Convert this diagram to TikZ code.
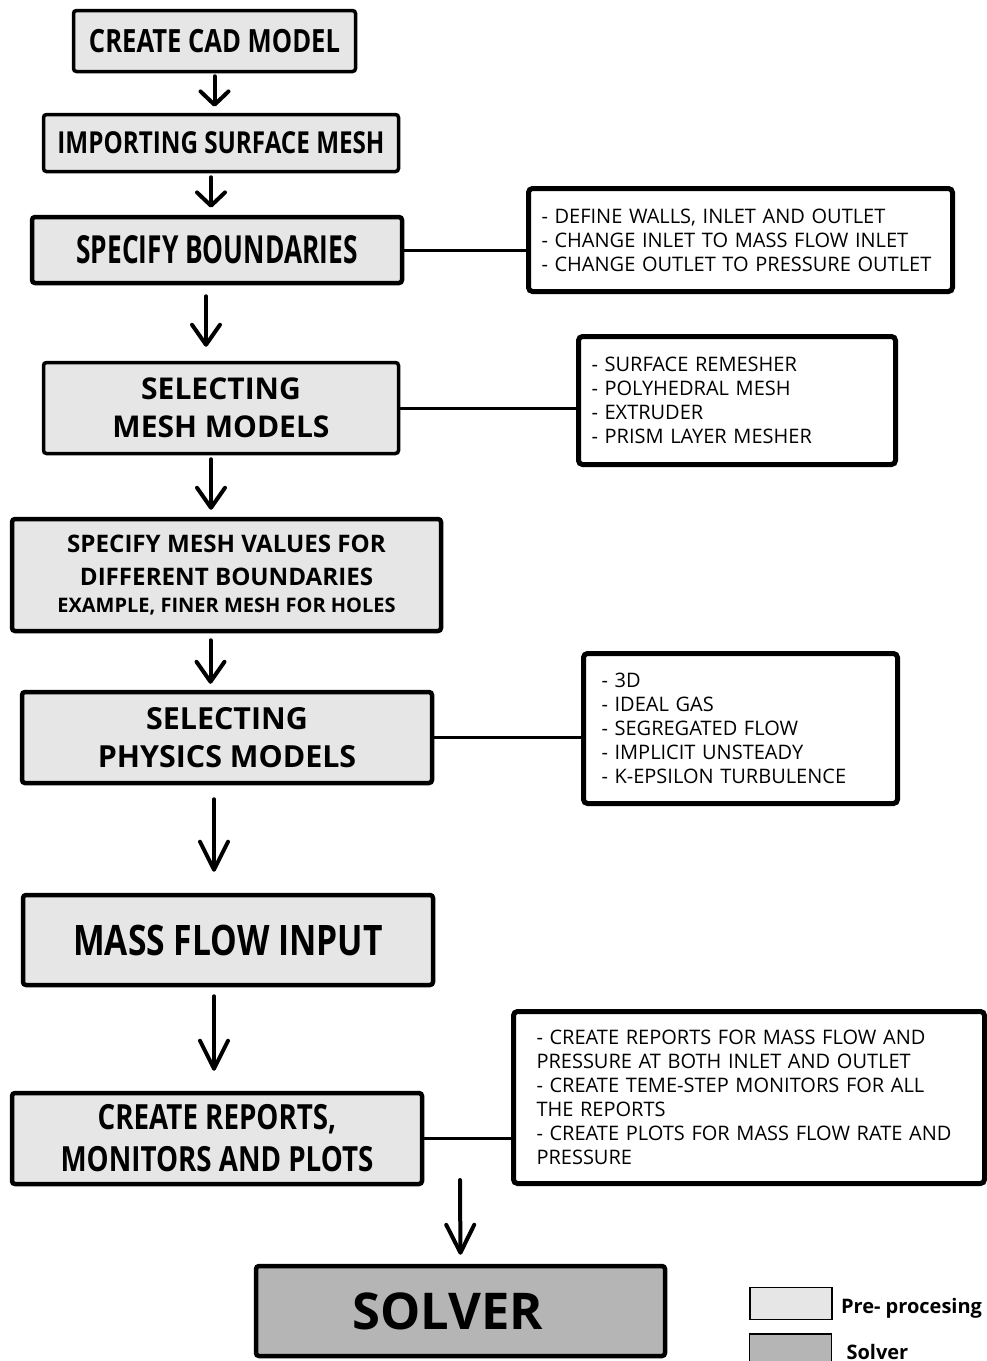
\documentclass[tikz,border=0pt]{standalone}
\usepackage{fontspec}
\setmainfont{Open Sans}
\newfontfamily\condfont[FakeStretch=0.80]{Open Sans}
\newfontfamily\narrowfont[FakeStretch=0.68]{Open Sans}
\usetikzlibrary{positioning,arrows.meta}
\definecolor{box-grey}{HTML}{E6E6E6}
\definecolor{solver-grey}{HTML}{B5B5B5}
\newlength{\basisa}
\setlength{\basisa}{0.75pt}

\tikzset{
    stepbox/.style={draw, line width=3.5\basisa, fill=box-grey, rounded corners=3\basisa, inner sep=0pt, align=center},
    notebox/.style={draw, line width=5\basisa, fill=white, rounded corners=4\basisa, align=left, inner ysep=0pt, font=\fontsize{15}{18}\selectfont},
    link/.style={line width=3\basisa},
    flow/.style={-{Straight Barb[length=10pt,width=21pt,round]}, line width=4\basisa, line cap=round},
    midflow/.style={-{Straight Barb[length=15pt,width=21pt,round]}, line width=4\basisa, line cap=round},
    longflow/.style={-{Straight Barb[length=21pt,width=21pt,round]}, line width=4\basisa, line cap=round},
    legendbox/.style={draw, line width=1.5\basisa, minimum width=82\basisa, minimum height=32\basisa},
    legendtext/.style={inner sep=0pt, font=\bfseries\fontsize{15}{18}\selectfont},
}

\begin{document}
\begin{tikzpicture}
    \useasboundingbox (0,0) rectangle (986\basisa,-1361\basisa);

    % main steps
    \draw (214.5\basisa,-41\basisa) 
		node[stepbox, minimum width=282\basisa, minimum height=61\basisa, font=\condfont\bfseries\fontsize{24}{26}\selectfont] 
			(CadModel) {CREATE CAD MODEL};
    \draw (221\basisa,-143\basisa) 
		node[stepbox, minimum width=355\basisa, minimum height=57\basisa, font=\condfont\bfseries\fontsize{22.7}{26}\selectfont] 
			(SurfaceMesh) {IMPORTING SURFACE MESH};
    \draw (217\basisa,-250\basisa) 
		node[stepbox, line width=4.5\basisa, minimum width=370\basisa, minimum height=66\basisa, font=\narrowfont\bfseries\fontsize{29}{32}\selectfont] 
			(Boundaries) {SPECIFY BOUNDARIES};
    \draw (221\basisa,-408\basisa) 
		node[stepbox, minimum width=355\basisa, minimum height=91\basisa, font=\bfseries\fontsize{22.5}{28.5}\selectfont] 
			(MeshModels) {SELECTING\\MESH MODELS};
    \draw (226.5\basisa,-575\basisa) 
		node[stepbox, line width=4.5\basisa, minimum width=429\basisa, minimum height=112\basisa, font=\bfseries\fontsize{18.1}{24.75}\selectfont] 
			(MeshValues) {SPECIFY MESH VALUES FOR\\DIFFERENT BOUNDARIES\\[-5.5\basisa]{\fontsize{15}{18}\selectfont EXAMPLE, FINER MESH FOR HOLES}};
    \draw (227\basisa,-737.5\basisa) 
		node[stepbox, line width=4.5\basisa, minimum width=410\basisa, minimum height=91\basisa, font=\bfseries\fontsize{22.8}{29}\selectfont] 
			(PhysicsModels) {SELECTING\\PHYSICS MODELS};
    \draw (228\basisa,-940\basisa) 
		node[stepbox, line width=4.5\basisa, minimum width=410\basisa, minimum height=90\basisa, font=\condfont\bfseries\fontsize{31.5}{34}\selectfont] 
			(MassFlow) {MASS FLOW INPUT};
    \draw (217\basisa,-1138.5\basisa) 
		node[stepbox, line width=4.5\basisa, minimum width=410\basisa, minimum height=91\basisa, font=\condfont\bfseries\fontsize{26}{31.5}\selectfont] 
			(Reports) {CREATE REPORTS,\\MONITORS AND PLOTS};
    \draw (460.5\basisa,-1311\basisa) 
		node[stepbox, line width=4.5\basisa, fill=solver-grey, minimum width=409\basisa, minimum height=90\basisa, font=\bfseries\fontsize{38}{42}\selectfont] 
			(Solver) {SOLVER\hspace*{26\basisa}};

    % lists beside the steps
    \draw (740.5\basisa,-240\basisa) 
		node[notebox, minimum width=424\basisa, minimum height=103\basisa, inner xsep=13\basisa, text width=398\basisa] 
			(BoundariesList) {- DEFINE WALLS, INLET AND OUTLET\\- CHANGE INLET TO MASS FLOW INLET\\- CHANGE OUTLET TO PRESSURE OUTLET};
    \draw (737\basisa,-400.5\basisa) 
		node[notebox, minimum width=317\basisa, minimum height=128\basisa, inner xsep=13\basisa, text width=291\basisa] 
			(MeshModelsList) {- SURFACE REMESHER\\- POLYHEDRAL MESH\\- EXTRUDER\\- PRISM LAYER MESHER};
    \draw (740.5\basisa,-728.5\basisa) 
		node[notebox, minimum width=314\basisa, minimum height=150\basisa, inner xsep=18\basisa, text width=278\basisa] 
			(PhysicsList) {- 3D\\- IDEAL GAS\\- SEGREGATED FLOW\\- IMPLICIT UNSTEADY\\- K-EPSILON TURBULENCE};
    \draw (749\basisa,-1097.5\basisa) 
		node[notebox, minimum width=471\basisa, minimum height=172\basisa, inner xsep=23\basisa, text width=425\basisa] 
			(ReportsList) {- CREATE REPORTS FOR MASS FLOW AND\\PRESSURE AT BOTH INLET AND OUTLET\\- CREATE TEME-STEP MONITORS FOR ALL\\THE REPORTS\\- CREATE PLOTS FOR MASS FLOW RATE AND\\PRESSURE};

    % legend
    \draw (791\basisa,-1303.5\basisa) 
		node[legendbox, fill=box-grey] (LegendPre) {};
    \draw (790.5\basisa,-1350\basisa) 
		node[legendbox, fill=solver-grey] (LegendSolver) {};
    \node[legendtext, right=8\basisa of LegendPre, yshift=-5\basisa] (LegendPreText) {Pre- procesing};
    \node[legendtext, right=14\basisa of LegendSolver, yshift=-2\basisa] (LegendSolverText) {Solver};

	\draw[flow, shorten <=3\basisa, shorten >=6\basisa] (CadModel.south) -- (CadModel.south |- SurfaceMesh.north);
	\draw[flow, shorten <=4\basisa, shorten >=7\basisa] ([xshift=-10\basisa]SurfaceMesh.south) -- ([xshift=-10\basisa]SurfaceMesh.south |- Boundaries.north);
	\draw[midflow, shorten <=11\basisa, shorten >=14\basisa] ([xshift=-11\basisa]Boundaries.south) -- ([xshift=-11\basisa]Boundaries.south |- MeshModels.north);
	\draw[midflow, shorten <=4\basisa, shorten >=7\basisa] ([xshift=-10\basisa]MeshModels.south) -- ([xshift=-10\basisa]MeshModels.south |- MeshValues.north);
	\draw[midflow, shorten <=7\basisa, shorten >=6\basisa] ([xshift=-16\basisa]MeshValues.south) -- ([xshift=-16\basisa]MeshValues.south |- PhysicsModels.north);
	\draw[longflow, shorten <=14\basisa, shorten >=21\basisa] ([xshift=-13\basisa]PhysicsModels.south) -- ([xshift=-13\basisa]PhysicsModels.south |- MassFlow.north);
	\draw[longflow, shorten <=9\basisa, shorten >=20\basisa] ([xshift=-14\basisa]MassFlow.south) -- ([xshift=-14\basisa]MassFlow.south |- Reports.north);
	\coordinate (SolverIn) at (460\basisa,-1180\basisa);
	\draw[longflow, shorten >=9\basisa] (SolverIn) -- (Solver.north);

	\draw[link] (Boundaries.east) -- (Boundaries.east -| BoundariesList.west);
	\draw[link] (MeshModels.east) -- (MeshModels.east -| MeshModelsList.west);
	\draw[link] (PhysicsModels.east) -- (PhysicsModels.east -| PhysicsList.west);
	\draw[link] (Reports.east) -- (Reports.east -| ReportsList.west);
\end{tikzpicture}
\end{document}
